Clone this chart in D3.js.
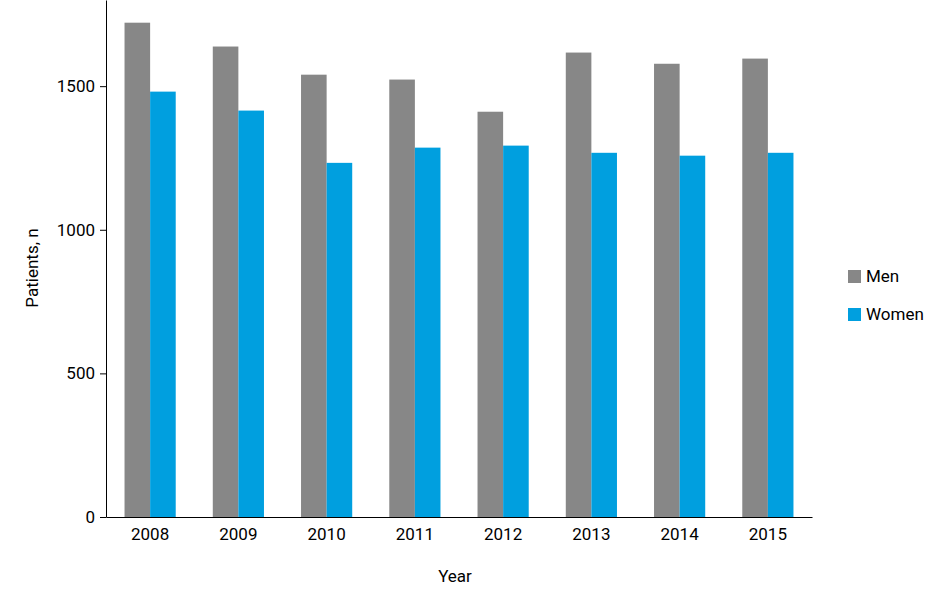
<!DOCTYPE html>
<html><head><meta charset="utf-8">
<script src="https://cdn.jsdelivr.net/npm/d3@7"></script>
<style>body{margin:0;background:#fff}text{font-family:"Liberation Sans Narrow","Roboto",sans-serif}</style>
</head><body><svg id="chart"></svg>
<script>
var years = ["2008","2009","2010","2011","2012","2013","2014","2015"]
var men = [1721, 1638, 1540, 1523, 1411, 1617, 1578, 1596]
var women = [1481, 1415, 1233, 1286, 1293, 1268, 1258, 1268]
var yTicks = [0, 500, 1000, 1500]
var series = ["Men", "Women"]
var colors = ["#878787", "#009fdf"]

var svg = d3.select("#chart").attr("width", 951).attr("height", 592)
var mLeft = 106, mRight = 812, mTop = 0, mBottom = 517

var xScale = d3.scaleBand().domain(years).range([mLeft, mRight]).paddingInner(0.42).paddingOuter(0.21)
var sub = d3.scaleBand().domain(series).range([0, xScale.bandwidth()])
var yScale = d3.scaleLinear().domain([0, 1800]).range([mBottom, mTop])
var color = d3.scaleOrdinal().domain(series).range(colors)

var data = years.map((y, i) => ({year: y, Men: men[i], Women: women[i]}))
svg.append("g").selectAll("g").data(data).enter().append("g")
    .attr("transform", d => `translate(${xScale(d.year)},0)`)
    .selectAll("rect").data(d => series.map(s => ({s: s, v: d[s]}))).enter().append("rect")
    .attr("x", d => sub(d.s)).attr("width", sub.bandwidth())
    .attr("y", d => yScale(d.v)).attr("height", d => mBottom - yScale(d.v))
    .attr("fill", d => color(d.s))

var yAxis = svg.append("g").attr("transform", `translate(${mLeft},0)`)
    .call(d3.axisLeft(yScale).tickValues(yTicks).tickFormat(d3.format("d")).tickSize(6).tickSizeOuter(0))
var xAxis = svg.append("g").attr("transform", `translate(0,${mBottom})`)
    .call(d3.axisBottom(xScale).tickSize(0).tickSizeOuter(0))
svg.selectAll(".domain, .tick line").attr("stroke", "#000")
svg.selectAll(".tick text").style("font-size", "17px").attr("fill", "#000")
yAxis.selectAll(".tick text").attr("dx", "-2px")
xAxis.selectAll(".tick text").attr("dy", "1.2em")

svg.append("text").attr("transform", "translate(38,268) rotate(-90)")
    .attr("text-anchor", "middle").style("font-size", "17px").text("Patients, n")
svg.append("text").attr("x", 455).attr("y", 582)
    .attr("text-anchor", "middle").style("font-size", "17px").text("Year")

var legend = svg.append("g").selectAll("g").data(series).enter().append("g")
    .attr("transform", (d, i) => `translate(848,${270 + i * 38})`)
legend.append("rect").attr("width", 13).attr("height", 13).attr("fill", d => color(d))
legend.append("text").attr("x", 18).attr("y", 12).style("font-size", "17px").text(d => d)
</script></body></html>
